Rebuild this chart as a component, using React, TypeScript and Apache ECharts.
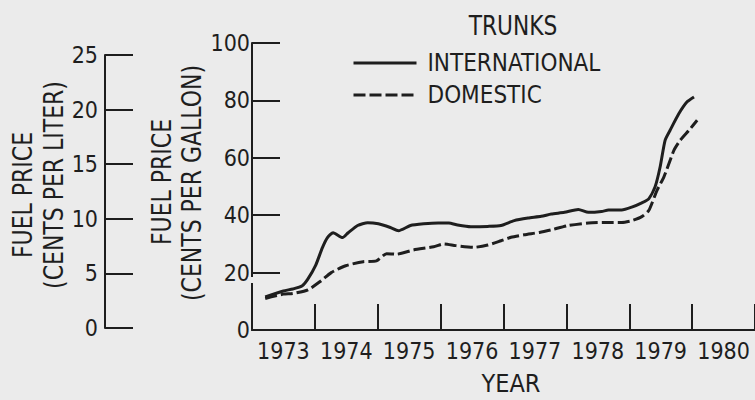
import React, { useEffect, useRef } from "react";
import * as echarts from "echarts";

// ---- data ----
const yearLabels = ["1973", "1974", "1975", "1976", "1977", "1978", "1979", "1980"];
const gallonTicks = [0, 20, 40, 60, 80, 100];
const literTicks = [0, 5, 10, 15, 20, 25];

// International trunks: [year, cents per gallon]
const intlYears = [
  1973.21, 1973.5, 1973.65, 1973.8, 1973.89, 1974.01, 1974.12, 1974.2, 1974.29, 1974.44,
  1974.53, 1974.68, 1974.84, 1975.01, 1975.2, 1975.33, 1975.52, 1975.73, 1975.96, 1976.13,
  1976.27, 1976.48, 1976.75, 1976.96, 1977.17, 1977.39, 1977.6, 1977.76, 1977.97, 1978.19,
  1978.35, 1978.56, 1978.67, 1978.88, 1979.04, 1979.2, 1979.31, 1979.41, 1979.49, 1979.57,
  1979.65, 1979.79, 1979.92, 1980.03,
];
const intlPrice = [
  11.5, 13.6, 14.3, 15.4, 17.8, 22.4, 28.7, 32.2, 33.9, 32.2,
  33.9, 36.4, 37.4, 37.0, 35.7, 34.6, 36.4, 37.0, 37.3, 37.3,
  36.6, 36.0, 36.1, 36.4, 38.1, 39.0, 39.6, 40.4, 41.0, 42.0,
  41.0, 41.3, 41.8, 41.8, 42.8, 44.3, 45.7, 49.8, 56.7, 66.1,
  69.6, 75.4, 79.5, 81.2,
];

// Domestic trunks
const domYears = [
  1973.21, 1973.5, 1973.65, 1973.89, 1974.09, 1974.26, 1974.49, 1974.77, 1974.98, 1975.14,
  1975.3, 1975.57, 1975.89, 1976.05, 1976.24, 1976.53, 1976.75, 1976.96, 1977.12, 1977.33,
  1977.57, 1977.76, 1978.03, 1978.35, 1978.67, 1978.88, 1979.04, 1979.2, 1979.31, 1979.44,
  1979.55, 1979.63, 1979.71, 1979.81, 1979.95, 1980.08,
];
const domPrice = [
  11.0, 12.5, 12.7, 14.0, 17.0, 20.0, 22.4, 23.8, 24.1, 26.6,
  26.4, 27.9, 29.0, 30.0, 29.4, 28.8, 29.6, 31.1, 32.3, 33.2,
  34.0, 34.9, 36.4, 37.3, 37.5, 37.5, 38.1, 39.5, 41.6, 48.6,
  53.3, 57.9, 62.6, 66.1, 69.6, 73.1,
];

const FONT = "'DejaVu Sans Condensed', 'Liberation Sans Narrow', 'Liberation Sans', sans-serif";
const INK = "#1e1e1e";
const BG = "#ebebeb";

export default function App() {
  const ref = useRef<HTMLDivElement>(null);

  useEffect(() => {
    if (!ref.current) return;
    const chart = echarts.init(ref.current, null, { renderer: "svg" });

    const axisText = { color: INK, fontSize: 23, fontFamily: FONT };
    const titleStyle = (text: string) => ({
      text,
      fill: INK,
      font: `26px ${FONT}`,
      align: "center",
      verticalAlign: "middle",
    });

    const option: any = {
      animation: false,
      backgroundColor: BG,
      textStyle: { fontFamily: FONT, color: INK },
      grid: [
        { left: 252, right: 0, top: 43, bottom: 70 },
        { left: 105, width: 30, top: 55, bottom: 72 },
      ],
      xAxis: [
        {
          type: "category",
          gridIndex: 0,
          data: yearLabels,
          boundaryGap: true,
          axisLine: { show: true, lineStyle: { color: INK, width: 2 } },
          axisTick: { show: true, inside: true, length: 26, interval: 0, lineStyle: { color: INK, width: 2 } },
          axisLabel: { ...axisText, margin: 9, interval: 0 },
          splitLine: { show: false },
        },
        { type: "value", gridIndex: 0, min: 1973, max: 1981, show: false },
        { type: "value", gridIndex: 1, show: false },
      ],
      yAxis: [
        {
          type: "value",
          gridIndex: 0,
          min: gallonTicks[0],
          max: gallonTicks[gallonTicks.length - 1],
          interval: 20,
          axisLine: { show: true, lineStyle: { color: INK, width: 2 } },
          axisTick: { show: true, inside: true, length: 28, lineStyle: { color: INK, width: 2 } },
          axisLabel: { ...axisText, margin: 2 },
          splitLine: { show: false },
        },
        {
          type: "value",
          gridIndex: 1,
          min: literTicks[0],
          max: literTicks[literTicks.length - 1],
          interval: 5,
          axisLine: { show: true, lineStyle: { color: INK, width: 2 } },
          axisTick: { show: true, inside: true, length: 28, lineStyle: { color: INK, width: 2 } },
          axisLabel: { ...axisText, margin: 7 },
          splitLine: { show: false },
        },
      ],
      legend: {
        orient: "vertical",
        left: 352,
        top: 50,
        padding: 0,
        itemWidth: 63,
        itemHeight: 20,
        itemGap: 6,
        itemStyle: { opacity: 0 },
        lineStyle: { width: 3 },
        textStyle: { color: INK, fontSize: 24, lineHeight: 24, fontFamily: FONT, padding: [2, 0, 0, 6] },
        data: ["INTERNATIONAL", "DOMESTIC"],
      },
      series: [
        {
          name: "INTERNATIONAL",
          type: "line",
          xAxisIndex: 1,
          yAxisIndex: 0,
          symbol: "none",
          smooth: 0.2,
          data: intlYears.map((y, i) => [y, intlPrice[i]]),
          lineStyle: { color: INK, width: 3 },
          itemStyle: { color: INK },
        },
        {
          name: "DOMESTIC",
          type: "line",
          xAxisIndex: 1,
          yAxisIndex: 0,
          symbol: "none",
          smooth: 0.2,
          data: domYears.map((y, i) => [y, domPrice[i]]),
          lineStyle: { color: INK, width: 3, type: [12, 4] },
          itemStyle: { color: INK },
        },
      ],
      graphic: [
        { type: "text", x: 513, y: 26, scaleX: 0.93, style: titleStyle("TRUNKS") },
        { type: "text", x: 511, y: 383, style: { ...titleStyle("YEAR"), font: `25px ${FONT}` } },
        { type: "text", x: 23, y: 195, rotation: Math.PI / 2, scaleX: 0.94, style: titleStyle("FUEL PRICE") },
        { type: "text", x: 54, y: 185, rotation: Math.PI / 2, scaleX: 0.94, style: titleStyle("(CENTS PER LITER)") },
        { type: "text", x: 162, y: 182, rotation: Math.PI / 2, scaleX: 0.94, style: titleStyle("FUEL PRICE") },
        { type: "text", x: 192, y: 183, rotation: Math.PI / 2, scaleX: 0.94, style: titleStyle("(CENTS PER GALLON)") },
        { type: "rect", z: 100, shape: { x: 248, y: 277, width: 8, height: 6 }, style: { fill: BG } },
      ],
    };

    chart.setOption(option);
    return () => chart.dispose();
  }, []);

  return <div ref={ref} style={{ position: "fixed", left: 0, top: 0, width: 755, height: 400 }} />;
}
